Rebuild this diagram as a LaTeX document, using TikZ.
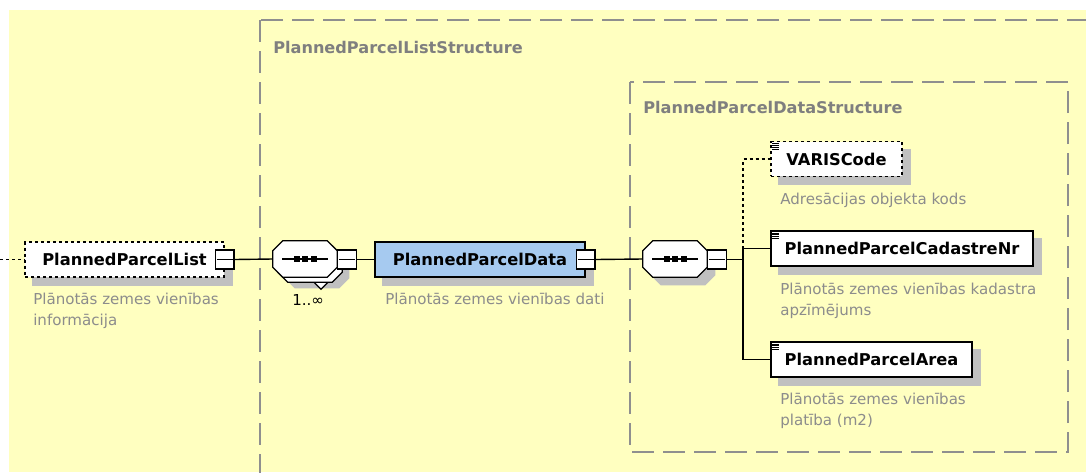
\documentclass[tikz,border=0pt]{standalone}
\usepackage{fontspec}
\setmainfont{DejaVu Sans}
\usetikzlibrary{calc}
\definecolor{bgyellow}{HTML}{FFFFC0}
\definecolor{framegray}{HTML}{8F8F8F}
\definecolor{titlegray}{HTML}{7F7F7F}
\definecolor{descgray}{HTML}{8C8C8C}
\definecolor{shadowgray}{HTML}{C0C0C0}
\definecolor{elemblue}{HTML}{A6CAF0}
\pgfdeclarelayer{bg}
\pgfdeclarelayer{shadowlayer}
\pgfsetlayers{bg,shadowlayer,main}
\newcommand\xsdoctagon[3]{%
  \path[#3]
   ([shift={(#2)},xshift=7.5pt]#1.north west) -- ([shift={(#2)},xshift=-7.5pt]#1.north east)
   -- ([shift={(#2)},yshift=-7.5pt]#1.north east) -- ([shift={(#2)},yshift=7.5pt]#1.south east)
   -- ([shift={(#2)},xshift=-7.5pt]#1.south east) -- ([shift={(#2)},xshift=7.5pt]#1.south west)
   -- ([shift={(#2)},yshift=7.5pt]#1.south west) -- ([shift={(#2)},yshift=-7.5pt]#1.north west) -- cycle;}
\newcommand\xsdicon[1]{%
  \foreach \k in {0,1,2,3}
    \draw[line width=0.5pt] ([shift={(2,2.5+1.8*\k)}]#1.north west) -- ++(7,0);}
\newcommand\xsdminus[1]{%
  \draw[line width=0.9pt] ([xshift=1.5pt]#1.west) -- ([xshift=-1.5pt]#1.east);}
\begin{document}
\begin{tikzpicture}[x=0.75pt,y=-0.75pt,
  dashframe/.style={draw=framegray,line width=1.1pt,dash pattern=on 16.5pt off 6.75pt},
  elem/.style={draw=black,line width=1.05pt,fill=white,minimum height=26pt,inner sep=0pt,font=\fontsize{12.2}{14}\selectfont\bfseries},
  opt/.style={dash pattern=on 2.25pt off 2.25pt},
  minusbox/.style={draw=black,line width=0.9pt,fill=white,minimum width=14pt,minimum height=14.25pt,inner sep=0pt},
  comp/.style={draw=none,minimum width=48pt,minimum height=27pt,inner sep=0pt},
  desc/.style={anchor=north west,inner sep=0pt,text=descgray,align=left,font=\fontsize{11.3}{15.75}\selectfont},
  frametitle/.style={anchor=west,inner sep=0pt,text=titlegray,font=\fontsize{12.1}{14}\selectfont\bfseries},
  conn/.style={draw=black,line width=1.05pt}
]
\useasboundingbox (0,0) rectangle (1086,472);
\clip (0,0) rectangle (1086,472);
\begin{pgfonlayer}{bg}
  \fill[white] (0,0) rectangle (1086,472);
  \fill[bgyellow] (9,10) rectangle (1086,472);
  \draw[dashframe] (260,20) rectangle (1120,520);
  \draw[dashframe] (630,82) rectangle (1068,452);
\end{pgfonlayer}

\node[frametitle] (t1) at (273,47.5) {PlannedParcelListStructure};
\node[frametitle] (t2) at (643,107) {PlannedParcelDataStructure};

% elements
\node[elem,opt,minimum width=149.25pt] (list) at (124.5,259.5) {PlannedParcelList};
\node[minusbox] (listm) at (list.east) {};
\xsdminus{listm}

\node[comp] (comp1) at (305,259) {};
\draw[line width=0.9pt,fill=white] ($(comp1.south)+(9,5)$) -- ($(comp1.south)+(16,12)$) -- ($(comp1.south)+(23,5)$);
\xsdoctagon{comp1}{5,5}{draw=black,line width=0.9pt,fill=white}
\xsdoctagon{comp1}{0,0}{draw=black,line width=0.9pt,fill=white}
\draw[line width=0.9pt] ([xshift=7pt]comp1.west) -- ([xshift=-7pt]comp1.east);
\foreach \dx in {-8.5,0,8.5}
  \fill ($(comp1.center)+(\dx,0)$) ++(-3,-3) rectangle ++(6,6);
\node[minusbox] (c1m) at ($(comp1.east)+(9.5,0.5)$) {};
\xsdminus{c1m}
\node[anchor=north west,inner sep=0pt,font=\fontsize{11.3}{14}\selectfont] (mult) at (292,294) {1..∞};

\node[elem,fill=elemblue,minimum width=157.5pt] (data) at (480,259.5) {PlannedParcelData};
\node[minusbox] (datam) at (data.east) {};
\xsdminus{datam}

\node[comp] (comp2) at (675,259) {};
\xsdoctagon{comp2}{0,0}{draw=black,line width=0.9pt,fill=white}
\draw[line width=0.9pt] ([xshift=7pt]comp2.west) -- ([xshift=-7pt]comp2.east);
\foreach \dx in {-8.5,0,8.5}
  \fill ($(comp2.center)+(\dx,0)$) ++(-3,-3) rectangle ++(6,6);
\node[minusbox] (c2m) at ($(comp2.east)+(9.5,0.5)$) {};
\xsdminus{c2m}

\node[elem,opt,minimum width=98.25pt] (varis) at (836.5,159) {VARISCode};
\xsdicon{varis}
\node[elem,minimum width=196.5pt] (cad) at (902,248.5) {PlannedParcelCadastreNr};
\xsdicon{cad}
\node[elem,minimum width=150.75pt] (area) at (871.5,359.5) {PlannedParcelArea};
\xsdicon{area}

% shadows
\begin{pgfonlayer}{shadowlayer}
  \foreach \n in {list,data,varis,cad,area}
    \fill[shadowgray] ([shift={(8,8)}]\n.north west) rectangle ([shift={(8,8)}]\n.south east);
  \xsdoctagon{comp1}{12,11}{fill=shadowgray}
  \xsdoctagon{comp2}{8,8}{fill=shadowgray}
\end{pgfonlayer}

% descriptions
\node[desc] (d1) at (33,293) {Plānotās zemes vienības\\informācija};
\node[desc] (d2) at (385,293) {Plānotās zemes vienības dati};
\node[desc] (d3) at (780,193) {Adresācijas objekta kods};
\node[desc] (d4) at (780,283) {Plānotās zemes vienības kadastra\\apzīmējums};
\node[desc] (d5) at (780,393) {Plānotās zemes vienības\\platība (m2)};

% connectors
\coordinate (lstart) at (0,259.5);
\coordinate (br) at (743,259.5);
\draw[conn,opt] (lstart) -- (list.west);
\draw[conn] (listm.east) -- (comp1.west);
\draw[conn] (c1m.east) -- (data.west);
\draw[conn] (datam.east) -- (comp2.west);
\draw[conn] (c2m.east) -- (br);
\draw[conn] (br) |- (cad.west);
\draw[conn] (br) |- (area.west);
\draw[conn,opt] (br |- cad.west) |- (varis.west);
\end{tikzpicture}
\end{document}
